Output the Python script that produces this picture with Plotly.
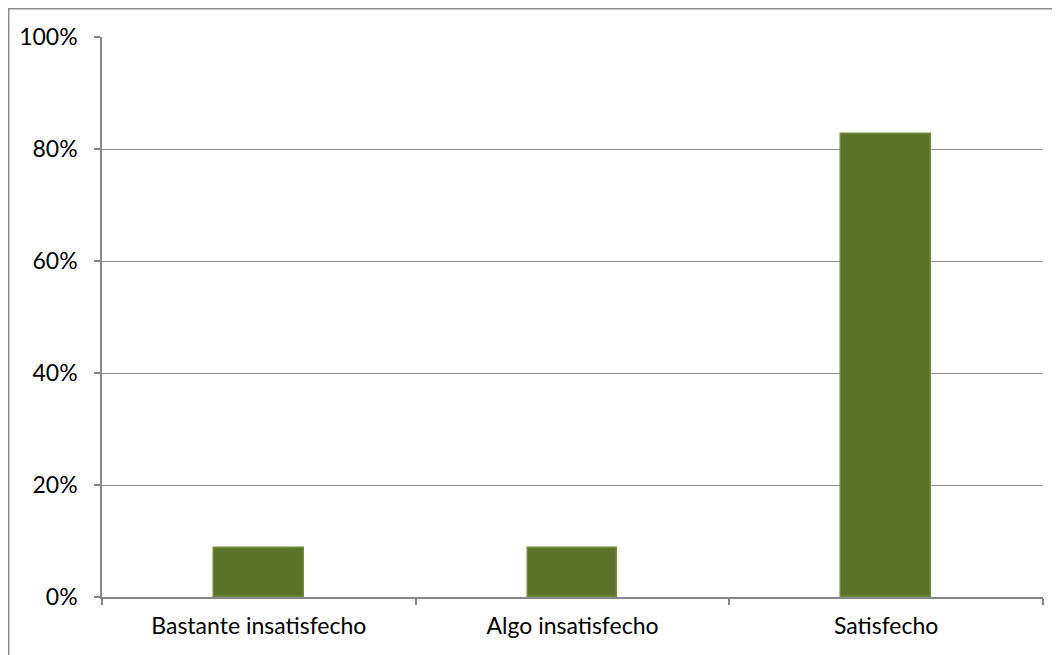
import plotly.graph_objects as go

categories = ["Bastante insatisfecho", "Algo insatisfecho", "Satisfecho"]
values = [2/23, 2/23, 19/23]
y_ticks = [0, 0.2, 0.4, 0.6, 0.8, 1.0]
y_tick_labels = ["0%", "20%", "40%", "60%", "80%", "100%"]

# page has an 8px body margin, so the figure is offset by 8px
W, H = 1052, 647
L, R, T, B = 94, 17, 29, 58
pw, ph = W - L - R, H - T - B

axis_col = "#868686"
font = dict(family="Lato, 'Liberation Sans', sans-serif", size=23, color="#000000")

fig = go.Figure()
fig.add_trace(go.Bar(
    x=categories, y=values,
    width=1/3.5,
    marker=dict(color="#5a7329", line=dict(color="#6f8a38", width=1.5)),
    hoverinfo="skip",
))

fig.update_layout(
    width=W, height=H,
    margin=dict(l=L, r=R, t=T, b=B, pad=0),
    paper_bgcolor="white", plot_bgcolor="white",
    font=font, showlegend=False,
    bargap=0,
    shapes=[dict(
        type="rect", xref="paper", yref="paper",
        x0=(0.75 - L) / pw, x1=(W + 40 - L) / pw,
        y0=-(H + 40 - (H - B)) / ph, y1=1 + (T - 0.75) / ph,
        line=dict(color="#8c8c8c", width=1.5), fillcolor="rgba(0,0,0,0)", layer="below",
    )],
)
fig.update_xaxes(
    showline=True, linecolor=axis_col, linewidth=1.5,
    ticks="outside", tickson="boundaries", ticklen=6, tickcolor=axis_col, tickwidth=1.5,
    showgrid=False, tickfont=font, ticklabelstandoff=8,
)
fig.update_yaxes(
    range=[0, 1], tickvals=y_ticks, ticktext=y_tick_labels,
    showline=True, linecolor=axis_col, linewidth=1.5,
    ticks="outside", ticklen=6, tickcolor=axis_col, tickwidth=1.5,
    showgrid=True, gridcolor="#8c8c8c", gridwidth=1,
    tickfont=font, ticklabelstandoff=12, zeroline=False,
)

fig.write_html("out.html")
